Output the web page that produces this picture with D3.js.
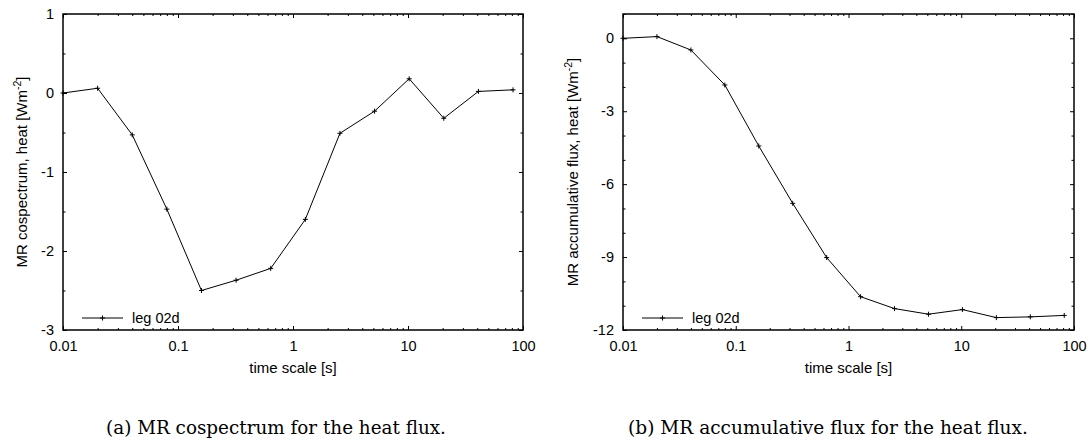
<!DOCTYPE html>
<html>
<head>
<meta charset="utf-8">
<script src="https://cdn.jsdelivr.net/npm/d3@7"></script>
<style>
  body { margin: 0; background: #fff; }
  svg { display: block; }
  .tick text { font-family: "Liberation Sans", Arial, sans-serif; font-size: 14.5px; fill: #000; }
  .tick line { stroke: #000; stroke-width: 1; }
  .label { font-family: "Liberation Sans", Arial, sans-serif; font-size: 15px; fill: #000; }
  .caption { font-family: "DejaVu Serif", serif; fill: #000; }
</style>
</head>
<body>
<script>
// Time scales of the MR decomposition (s)
var timeScale = [0.01, 0.02, 0.04, 0.08, 0.16, 0.32, 0.64, 1.28, 2.56, 5.12, 10.24, 20.48, 40.96, 81.92];

// MR cospectrum of the heat flux (W m-2)
var cospectrum = [0.0, 0.06, -0.53, -1.47, -2.50, -2.37, -2.22, -1.60, -0.51, -0.23, 0.18, -0.32, 0.02, 0.04];

// MR accumulative flux of the heat flux (W m-2)
var accumulated = [0.0, 0.07, -0.48, -1.92, -4.43, -6.79, -9.02, -10.63, -11.12, -11.35, -11.16, -11.49, -11.46, -11.40];

// Tick values and labels
var xTicks = [0.01, 0.1, 1, 10, 100];
var xTickLabels = ["0.01", "0.1", "1", "10", "100"];
var yTicksA = [1, 0, -1, -2, -3];
var yTickLabelsA = ["1", "0", "-1", "-2", "-3"];
var yMinorA = [0.5, -0.5, -1.5, -2.5];
var yTicksB = [0, -3, -6, -9, -12];
var yTickLabelsB = ["0", "-3", "-6", "-9", "-12"];
var yMinorB = [1, -1, -2, -4, -5, -7, -8, -10, -11];

var legendName = "leg 02d";

var w = 1092;
var h = 443;

var svg = d3.select("body")
    .append("svg")
    .attr("width", w)
    .attr("height", h);

// Draw one gnuplot style panel
function drawPanel(opt) {
  var x = d3.scaleLog()
      .domain([0.01, 100])
      .range([opt.left, opt.right]);
  var y = d3.scaleLinear()
      .domain(opt.yDomain)
      .range([opt.bottom, opt.top]);

  var g = svg.append("g");

  // minor ticks of the log axis (2..9 in each decade)
  var xMinor = x.ticks().filter(function(d) { return xTicks.indexOf(d) < 0; });

  // bottom axis with labels
  g.append("g")
      .attr("transform", "translate(0," + opt.bottom + ")")
      .call(d3.axisBottom(x).tickValues(xTicks).tickSize(-4).tickPadding(11)
        .tickFormat(function(d, i) { return xTickLabels[i]; }));
  g.append("g")
      .attr("transform", "translate(0," + opt.bottom + ")")
      .call(d3.axisBottom(x).tickValues(xMinor).tickSize(-2).tickFormat(""));

  // top axis, mirrored ticks only
  g.append("g")
      .attr("transform", "translate(0," + opt.top + ")")
      .call(d3.axisTop(x).tickValues(xTicks).tickSize(-4).tickFormat(""));
  g.append("g")
      .attr("transform", "translate(0," + opt.top + ")")
      .call(d3.axisTop(x).tickValues(xMinor).tickSize(-2).tickFormat(""));

  // left axis with labels
  g.append("g")
      .attr("transform", "translate(" + opt.left + ",0)")
      .call(d3.axisLeft(y).tickValues(opt.yTicks).tickSize(-4).tickPadding(9)
        .tickFormat(function(d, i) { return opt.yLabels[i]; }));
  g.append("g")
      .attr("transform", "translate(" + opt.left + ",0)")
      .call(d3.axisLeft(y).tickValues(opt.yMinor).tickSize(-2.5).tickFormat(""));

  // right axis, mirrored ticks only
  g.append("g")
      .attr("transform", "translate(" + opt.right + ",0)")
      .call(d3.axisRight(y).tickValues(opt.yTicks).tickSize(-4).tickFormat(""));
  g.append("g")
      .attr("transform", "translate(" + opt.right + ",0)")
      .call(d3.axisRight(y).tickValues(opt.yMinor).tickSize(-2.5).tickFormat(""));

  g.selectAll(".domain").remove();

  // frame
  g.append("rect")
      .attr("x", opt.left)
      .attr("y", opt.top)
      .attr("width", opt.right - opt.left)
      .attr("height", opt.bottom - opt.top)
      .attr("fill", "none")
      .attr("stroke", "#000")
      .attr("stroke-width", 1.5);

  // data line
  var pts = timeScale.map(function(t, i) { return [t, opt.values[i]]; });
  var line = d3.line()
      .x(function(d) { return x(d[0]); })
      .y(function(d) { return y(d[1]); });

  g.append("path")
      .datum(pts)
      .attr("d", line)
      .attr("fill", "none")
      .attr("stroke", "#000")
      .attr("stroke-width", 1);

  // plus markers
  g.selectAll(".pt")
      .data(pts)
      .enter()
      .append("path")
      .attr("class", "pt")
      .attr("transform", function(d) { return "translate(" + x(d[0]) + "," + y(d[1]) + ")"; })
      .attr("d", "M-2.5,0H2.5M0,-2.5V2.5")
      .attr("stroke", "#000")
      .attr("stroke-width", 1);

  // legend
  var ly = opt.bottom - 12;
  g.append("line")
      .attr("x1", opt.left + 19)
      .attr("x2", opt.left + 60)
      .attr("y1", ly)
      .attr("y2", ly)
      .attr("stroke", "#000")
      .attr("stroke-width", 1);
  g.append("path")
      .attr("transform", "translate(" + (opt.left + 39.5) + "," + ly + ")")
      .attr("d", "M-2.5,0H2.5M0,-2.5V2.5")
      .attr("stroke", "#000");
  g.append("text")
      .attr("class", "label")
      .attr("x", opt.left + 69)
      .attr("y", ly)
      .attr("dy", "0.35em")
      .style("font-size", "14.5px")
      .text(legendName);

  // x axis title
  g.append("text")
      .attr("class", "label")
      .attr("x", (opt.left + opt.right) / 2)
      .attr("y", 373)
      .attr("text-anchor", "middle")
      .text("time scale [s]");

  // y axis title with superscript
  var yt = g.append("text")
      .attr("class", "label")
      .attr("transform", "translate(" + opt.yTitleX + "," + (opt.top + opt.bottom) / 2 + ") rotate(-90)")
      .attr("text-anchor", "middle");
  yt.append("tspan").text(opt.yTitle + " [Wm");
  yt.append("tspan")
      .attr("dy", -6)
      .style("font-size", "10.5px")
      .text("-2");
  yt.append("tspan")
      .attr("dy", 6)
      .text("]");

  // caption, sized to the width of the original
  var cap = svg.append("text")
      .attr("class", "caption")
      .attr("x", opt.capX)
      .attr("y", 434)
      .attr("text-anchor", "middle")
      .style("font-size", "16px")
      .text(opt.caption);
  var len = cap.node().getComputedTextLength();
  cap.style("font-size", (16 * opt.capWidth / len) + "px");
}

drawPanel({
  left: 63, right: 523, top: 14, bottom: 330,
  yDomain: [-3, 1],
  yTicks: yTicksA, yLabels: yTickLabelsA, yMinor: yMinorA,
  values: cospectrum,
  yTitle: "MR cospectrum, heat",
  yTitleX: 27,
  caption: "(a) MR cospectrum for the heat flux.",
  capX: 276, capWidth: 340
});

drawPanel({
  left: 623, right: 1074, top: 14, bottom: 330,
  yDomain: [-12, 1],
  yTicks: yTicksB, yLabels: yTickLabelsB, yMinor: yMinorB,
  values: accumulated,
  yTitle: "MR accumulative flux, heat",
  yTitleX: 578,
  caption: "(b) MR accumulative flux for the heat flux.",
  capX: 828, capWidth: 400
});
</script>
</body>
</html>
